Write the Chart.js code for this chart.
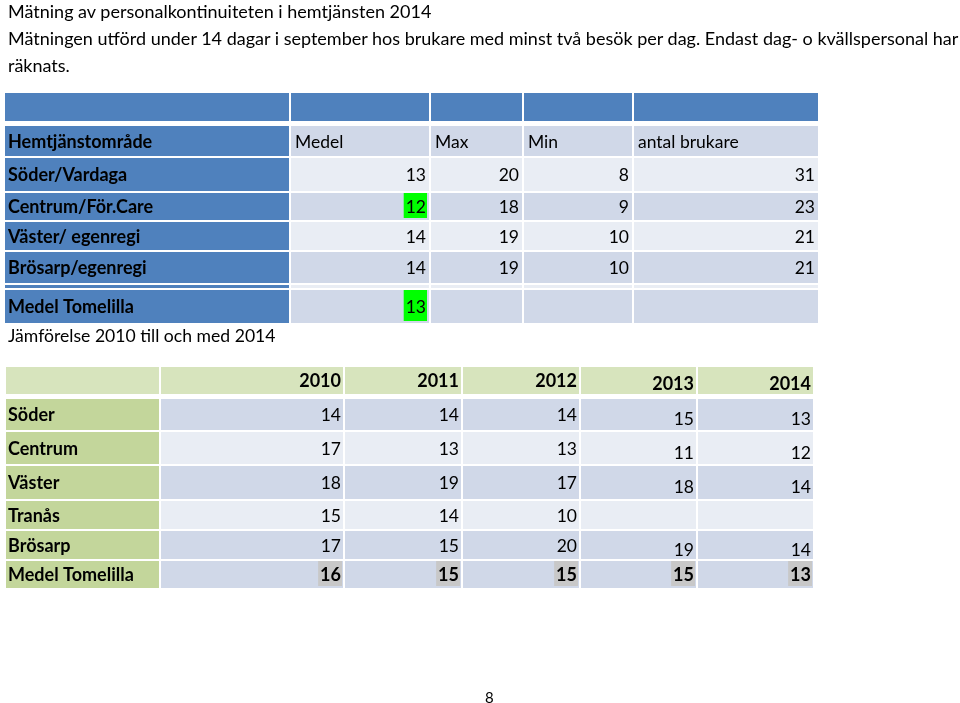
<!DOCTYPE html>
<html>
<head>
<meta charset="utf-8">
<script src="https://cdn.jsdelivr.net/npm/chart.js@4.4.1/dist/chart.umd.min.js"></script>
<style>
  body { margin: 0; background: #fff; font-family: Lato, "Open Sans", sans-serif; }
  #wrap { position: relative; width: 960px; height: 703px; overflow: hidden; }
  #tables { position: absolute; left: 0; top: 0; }
  .t { position: absolute; white-space: nowrap; color: #000; font-size: 18px; line-height: 20px; }
</style>
</head>
<body>
<div id="wrap">
  <canvas id="tables" width="960" height="703"></canvas>
  <div class="t" style="left:8px;top:1px">Mätning av personalkontinuiteten i hemtjänsten 2014</div>
  <div class="t" style="left:8px;top:28px">Mätningen utförd under 14 dagar i september hos brukare med minst två besök per dag. Endast dag- o kvällspersonal har</div>
  <div class="t" style="left:8px;top:55px">räknats.</div>
  <div class="t" style="left:8px;top:326px;font-size:17.6px">Jämförelse 2010 till och med 2014</div>
  <div class="t" style="left:485px;top:687px;font-size:15px">8</div>
</div>
<script>
// tabell 1 - mätning september 2014
var headers1 = ["Hemtjänstområde", "Medel", "Max", "Min", "antal brukare"];
var areas1 = ["Söder/Vardaga", "Centrum/För.Care", "Väster/ egenregi", "Brösarp/egenregi"];
var medel = [13, 12, 14, 14];
var maxv = [20, 18, 19, 19];
var minv = [8, 9, 10, 10];
var antal = [31, 23, 21, 21];
var medelTomelilla = 13;

// tabell 2 - jämförelse 2010-2014
var years = ["2010", "2011", "2012", "2013", "2014"];
var areas2 = ["Söder", "Centrum", "Väster", "Tranås", "Brösarp", "Medel Tomelilla"];
var v2010 = [14, 17, 18, 15, 17, 16];
var v2011 = [14, 13, 19, 14, 15, 15];
var v2012 = [14, 13, 17, 10, 20, 15];
var v2013 = [15, 11, 18, null, 19, 15];
var v2014 = [13, 12, 14, null, 14, 13];

// layout (pixlar)
var cols1 = [[5, 289], [291, 429], [431, 522], [524, 632], [634, 818]];
var rows1 = [[93, 121], [126, 156], [158, 191], [193, 220], [222, 250], [252, 283], [285, 288], [290, 323]];
var cols2 = [[6, 159], [161, 343], [345, 461], [463, 579], [581, 696], [698, 813]];
var rows2 = [[367, 394], [399, 430], [432, 464], [466, 499], [501, 529], [531, 559], [561, 588]];

var BLUE = '#4F81BD', L1 = '#D0D8E8', L2 = '#E9EDF4';
var GHEAD = '#D7E4BD', GCOL = '#C3D69B';
var HI_GREEN = '#00FF00', HI_GREY = '#C8C8C8';

function cell(text, fill, opts) {
  var c = { text: text == null ? '' : String(text), fill: fill, bold: false, align: 'right', hi: null, dy: 0, pad: 3 };
  for (var k in opts) c[k] = opts[k];
  return c;
}

// tabell 1 rader
var table1 = [];
table1.push(headers1.map(function() { return cell('', BLUE); }));
table1.push(headers1.map(function(h, i) {
  return cell(h, i == 0 ? BLUE : L1, { bold: i == 0, align: 'left', pad: i == 0 ? 3 : 4 });
}));
areas1.forEach(function(a, r) {
  var f = r % 2 == 0 ? L2 : L1;
  table1.push([
    cell(a, BLUE, { bold: true, align: 'left' }),
    cell(medel[r], f, { hi: r == 1 ? HI_GREEN : null }),
    cell(maxv[r], f),
    cell(minv[r], f),
    cell(antal[r], f)
  ]);
});
table1.push(headers1.map(function(h, i) { return cell('', i == 0 ? BLUE : L2); }));
table1.push([
  cell("Medel Tomelilla", BLUE, { bold: true, align: 'left' }),
  cell(medelTomelilla, L1, { hi: HI_GREEN }),
  cell('', L1), cell('', L1), cell('', L1)
]);

// tabell 2 rader
var series2 = [v2010, v2011, v2012, v2013, v2014];
var table2 = [];
table2.push([cell('', GHEAD)].concat(years.map(function(y, i) {
  return cell(y, GHEAD, { bold: true, pad: 2, dy: i >= 3 ? 3 : 0 });
})));
areas2.forEach(function(a, r) {
  var last = r == areas2.length - 1;
  var f = last ? L1 : (r % 2 == 0 ? L1 : L2);
  var row = [cell(a, GCOL, { bold: true, align: 'left', pad: 2 })];
  series2.forEach(function(s, i) {
    row.push(cell(s[r], f, { bold: last, pad: 2, hi: last ? HI_GREY : null, dy: (!last && i >= 3) ? 4 : 0 }));
  });
  table2.push(row);
});

function buildSets(table, cols, rows) {
  return table.map(function(row, r) {
    return {
      data: cols.map(function(c) { return { x: [c[0], c[1]], y: (rows[r][0] + rows[r][1]) / 2 }; }),
      backgroundColor: row.map(function(c) { return c.fill; }),
      // grouped:false ignores barThickness, so cap the height with maxBarThickness
      maxBarThickness: rows[r][1] - rows[r][0],
      barPercentage: 50,
      categoryPercentage: 1,
      borderWidth: 0,
      grouped: false,
      cells: row
    };
  });
}

var cellText = {
  id: 'cellText',
  afterDatasetsDraw: function(chart) {
    var ctx = chart.ctx;
    chart.data.datasets.forEach(function(ds, di) {
      var meta = chart.getDatasetMeta(di);
      meta.data.forEach(function(bar, i) {
        var c = ds.cells[i];
        if (c.text === '') return;
        var left = Math.min(bar.x, bar.base), right = Math.max(bar.x, bar.base);
        var top = bar.y - bar.height / 2, bottom = bar.y + bar.height / 2;
        ctx.save();
        ctx.font = c.bold ? 'bold 18px Lato, sans-serif' : '17.5px Lato, sans-serif';
        var w = ctx.measureText(c.text).width;
        var tx = c.align == 'right' ? right - c.pad : left + c.pad;
        if (c.hi) {
          ctx.fillStyle = c.hi;
          ctx.fillRect(tx - w - 2, top, w + 3, bottom - top - 2);
        }
        ctx.fillStyle = '#000';
        ctx.textAlign = c.align;
        ctx.textBaseline = 'middle';
        ctx.fillText(c.text, tx, bar.y + 1 + c.dy);
        ctx.restore();
      });
    });
  }
};

var ctx = document.getElementById('tables').getContext('2d');
var tablesChart = new Chart(ctx, {
  type: 'bar',
  data: { datasets: buildSets(table1, cols1, rows1).concat(buildSets(table2, cols2, rows2)) },
  options: {
    indexAxis: 'y',
    responsive: false,
    animation: false,
    layout: { padding: 0 },
    plugins: { legend: { display: false }, tooltip: { enabled: false } },
    scales: {
      x: { type: 'linear', min: 0, max: 960, display: false, offset: false },
      y: { type: 'linear', min: 0, max: 703, reverse: true, display: false, offset: false }
    }
  },
  plugins: [cellText]
});
</script>
</body>
</html>
